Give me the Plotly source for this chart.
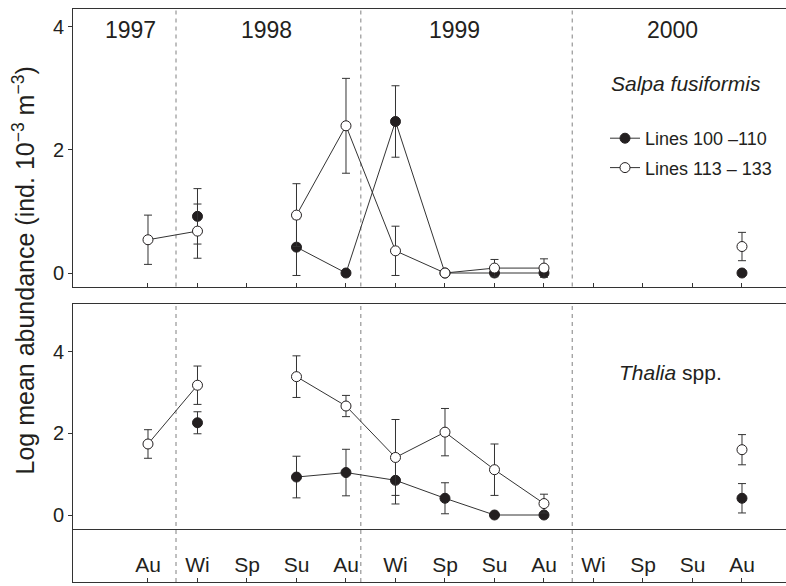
import plotly.graph_objects as go

# ---- data ----
season_idx = list(range(13))
seasons = ["Au", "Wi", "Sp", "Su", "Au", "Wi", "Sp", "Su", "Au", "Wi", "Sp", "Su", "Au"]
years = ["1997", "1998", "1999", "2000"]

salpa_100 = [None, 0.92, None, 0.42, 0.00, 2.46, 0.00, 0.00, 0.00, None, None, None, 0.00]
salpa_100_err = [None, 0.45, None, 0.46, 0.0, 0.58, 0.0, 0.0, 0.0, None, None, None, 0.0]
salpa_113 = [0.54, 0.68, None, 0.94, 2.39, 0.36, 0.00, 0.08, 0.08, None, None, None, 0.43]
salpa_113_err = [0.40, 0.44, None, 0.51, 0.77, 0.40, 0.0, 0.14, 0.15, None, None, None, 0.23]

thalia_100 = [None, 2.26, None, 0.93, 1.04, 0.85, 0.41, 0.00, 0.00, None, None, None, 0.41]
thalia_100_err = [None, 0.27, None, 0.51, 0.57, 0.58, 0.38, 0.0, 0.0, None, None, None, 0.36]
thalia_113 = [1.74, 3.18, None, 3.39, 2.67, 1.41, 2.03, 1.11, 0.28, None, None, None, 1.60]
thalia_113_err = [0.35, 0.47, None, 0.51, 0.26, 0.93, 0.58, 0.63, 0.23, None, None, None, 0.37]

# ---- style / layout constants ----
FONT = "Liberation Sans, Arial, Helvetica, sans-serif"
INK = "#231f20"
LINE = "#333333"
year_label_x = [-0.36, 2.40, 6.20, 10.59]
year_bounds = [0.566, 4.30, 8.57]
XR = [-1.515, 12.889]

W, H = 786, 586
ML, MR, MT, MB = 73, 0, 9, 4
PH = H - MT - MB
def py(pix):
    return (H - MB - pix) / PH

top_dom = [py(286.5), 1.0]
bot_dom = [py(529), py(304)]
strip_dom = [0.0, py(529)]

fig = go.Figure()

def add_pair(xa, ya, filled, filled_err, opened, opened_err, show):
    fig.add_trace(go.Scatter(
        x=season_idx, y=filled, mode="lines+markers", name="Lines 100 \u2013110",
        xaxis=xa, yaxis=ya, showlegend=show, legendgroup="a",
        line=dict(color=LINE, width=1),
        marker=dict(symbol="circle", size=10, color=INK, line=dict(color=INK, width=1)),
        error_y=dict(type="data", array=filled_err, color=LINE, thickness=1, width=4),
        cliponaxis=False,
    ))
    fig.add_trace(go.Scatter(
        x=season_idx, y=opened, mode="lines+markers", name="Lines 113 \u2013 133",
        xaxis=xa, yaxis=ya, showlegend=show, legendgroup="b",
        line=dict(color=LINE, width=1),
        marker=dict(symbol="circle", size=10, color="white", line=dict(color=INK, width=1)),
        error_y=dict(type="data", array=opened_err, color=LINE, thickness=1, width=4),
        cliponaxis=False,
    ))

add_pair("x", "y", salpa_100, salpa_100_err, salpa_113, salpa_113_err, True)
add_pair("x2", "y2", thalia_100, thalia_100_err, thalia_113, thalia_113_err, False)

axis_line = dict(showgrid=False, zeroline=False, linecolor=LINE, linewidth=1, tickcolor=LINE)
tick_font = dict(family=FONT, size=20, color=INK)

fig.update_layout(
    width=W, height=H,
    margin=dict(l=ML, r=MR, t=MT, b=MB),
    paper_bgcolor="white", plot_bgcolor="white",
    font=dict(family=FONT, color=INK),
    xaxis=dict(domain=[0, 1], range=XR, anchor="y", showline=True, mirror=True,
               ticks="inside", ticklen=4, tickvals=season_idx, showticklabels=False, **axis_line),
    yaxis=dict(domain=top_dom, range=[-0.219, 4.286], anchor="x", showline=True,
               ticks="outside", ticklen=4, tickvals=[0, 2, 4], tickfont=tick_font, **axis_line),
    xaxis2=dict(domain=[0, 1], range=XR, anchor="y2", showline=True, mirror=True,
                ticks="", showticklabels=False, **axis_line),
    yaxis2=dict(domain=bot_dom, range=[-0.343, 5.17], anchor="x2", showline=True,
                ticks="outside", ticklen=4, tickvals=[0, 2, 4], tickfont=tick_font, **axis_line),
    xaxis3=dict(domain=[0, 1], range=XR, anchor="y3", showline=True,
                ticks="inside", ticklen=4, tickvals=season_idx, ticktext=seasons,
                ticklabelposition="inside", ticklabelstandoff=3,
                tickfont=dict(family=FONT, size=21, color=INK), **axis_line),
    yaxis3=dict(domain=strip_dom, range=[0, 1], anchor="x3", showline=True,
                ticks="", showticklabels=False, **axis_line),
    legend=dict(x=(605 - ML) / 713, y=py(120), xanchor="left", yanchor="top",
                font=dict(family=FONT, size=18, color=INK),
                bgcolor="rgba(0,0,0,0)", traceorder="grouped", tracegroupgap=3),
    showlegend=True,
)
fig.add_trace(go.Scatter(x=[None], y=[None], xaxis="x3", yaxis="y3", showlegend=False,
                         hoverinfo="skip"))

shapes = []
for b in year_bounds:
    shapes.append(dict(type="line", xref="x", yref="paper", x0=b, x1=b, y0=top_dom[0], y1=top_dom[1],
                       line=dict(color="#808080", width=1, dash="4px,4px"), layer="below"))
    shapes.append(dict(type="line", xref="x2", yref="paper", x0=b, x1=b, y0=0, y1=bot_dom[1],
                       line=dict(color="#808080", width=1, dash="4px,4px"), layer="below"))
fig.update_layout(shapes=shapes)

ann = []
for lx, t in zip(year_label_x, years):
    ann.append(dict(x=lx, y=3.95, xref="x", yref="y", text=t, showarrow=False,
                    font=dict(family=FONT, size=23, color=INK), xanchor="center", yanchor="middle"))
ann.append(dict(x=9.31, y=3.08, xref="x", yref="y", text="<i>Salpa fusiformis</i>", showarrow=False,
                font=dict(family=FONT, size=21, color=INK), xanchor="left", yanchor="middle"))
ann.append(dict(x=9.47, y=3.5, xref="x2", yref="y2", text="<i>Thalia</i> spp.", showarrow=False,
                font=dict(family=FONT, size=21, color=INK), xanchor="left", yanchor="middle"))
ann.append(dict(x=(23.5 - ML) / 713, y=py(271), xref="paper", yref="paper",
                text="Log mean abundance (ind. 10<sup>\u22123</sup> m<sup>\u22123</sup>)",
                textangle=-90, showarrow=False, font=dict(family=FONT, size=25, color=INK),
                xanchor="center", yanchor="middle"))
fig.update_layout(annotations=ann)

fig.write_html("out.html", config={"displayModeBar": False},
               post_script="document.body.style.margin='0';document.body.style.overflow='hidden';")
